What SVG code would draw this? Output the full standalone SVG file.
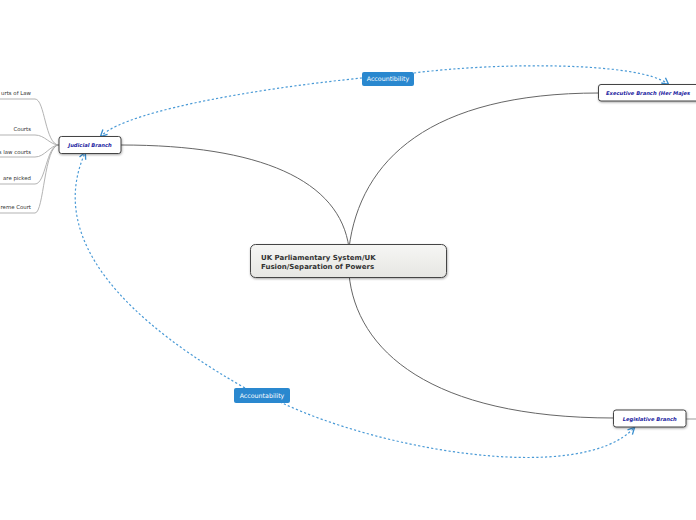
<svg xmlns="http://www.w3.org/2000/svg" width="696" height="520" viewBox="0 0 696 520">
<defs>
<linearGradient id="cg" x1="0" y1="0" x2="0" y2="1"><stop offset="0" stop-color="#f6f6f4"/><stop offset="1" stop-color="#e6e6e3"/></linearGradient>
<filter id="sh" x="-10%" y="-30%" width="120%" height="160%"><feDropShadow dx="0.5" dy="1" stdDeviation="0.8" flood-color="#000" flood-opacity="0.35"/></filter>
<marker id="ah" viewBox="0 0 10 10" refX="8" refY="5" markerWidth="7" markerHeight="7" orient="auto"><path d="M1,1 L9,5 L1,9" fill="none" stroke="#3a8fd0" stroke-width="1.6"/></marker>
</defs>
<style>
.main{fill:none;stroke:#666;stroke-width:1}
.sub{fill:none;stroke:#aaa;stroke-width:0.9}
.rel{fill:none;stroke:#4a9ad6;stroke-width:1.2;stroke-dasharray:2.2 2.2}
.node{fill:#fff;stroke:#444;stroke-width:1;filter:url(#sh)}
.nt{font-family:"DejaVu Sans",Verdana,sans-serif;font-size:5.2px;font-weight:bold;font-style:italic;fill:#1a1aa0}
.ct{font-family:"DejaVu Sans",Verdana,sans-serif;font-size:7px;font-weight:bold;fill:#333}
.lt{font-family:"DejaVu Sans",Verdana,sans-serif;font-size:5.4px;fill:#333;text-anchor:end}
.lab{fill:#2a88cf}
.labt{font-family:"DejaVu Sans",Verdana,sans-serif;font-size:6.3px;fill:#fff;text-anchor:middle}
</style>
<g id="connectors">
<path class="main" d="M121,145 C 260,145 340,180 349,248"/>
<path class="main" d="M349,248 C 360,160 430,93 599,93"/>
<path class="main" d="M349,274 C 356,350 430,418 614,418"/>
<path class="main" d="M686,419 L696,419" style="stroke:#999"/>
<path class="sub" d="M59,145 C 45,145 45,99 35,99 L0,99"/>
<path class="sub" d="M59,145 C 50,145 45,135 35,135 L0,135"/>
<path class="sub" d="M59,145 C 50,145 45,157 35,157 L0,157"/>
<path class="sub" d="M59,145 C 46,145 46,184 35,184 L0,184"/>
<path class="sub" d="M59,145 C 44,145 44,213 35,213 L0,213"/>
<path class="rel" d="M362,78 C 280,86 130,108 101,136" marker-end="url(#ah)"/>
<path class="rel" d="M414,73 C 500,62 640,62 668,84" marker-end="url(#ah)"/>
<path class="rel" d="M245,388 C 90,300 55,220 85,153" marker-end="url(#ah)"/>
<path class="rel" d="M280,402 C 380,450 580,485 634,428" marker-end="url(#ah)"/>
</g>
<g id="central">
<rect x="250.5" y="244.5" width="196" height="33" rx="5" fill="url(#cg)" stroke="#444" stroke-width="1" filter="url(#sh)"/>
<text class="ct" x="261" y="260">UK Parliamentary System/UK</text>
<text class="ct" x="261" y="268.5">Fusion/Separation of Powers</text>
</g>
<g id="judicial">
<rect class="node" x="59" y="136.5" width="62" height="17" rx="2.5"/>
<text class="nt" x="90" y="147" text-anchor="middle">Judicial Branch</text>
</g>
<g id="executive">
<rect class="node" x="598.5" y="84.5" width="110" height="16.5" rx="2.5"/>
<text class="nt" x="606" y="94.8">Executive Branch (Her Majes</text>
</g>
<g id="legislative">
<rect class="node" x="613.5" y="410" width="72.5" height="17" rx="2.5"/>
<text class="nt" x="649.7" y="420.5" text-anchor="middle">Legislative Branch</text>
</g>
<g id="judicial-children">
<text class="lt" x="31" y="95">urts of Law</text>
<text class="lt" x="31" y="131">Courts</text>
<text class="lt" x="31" y="154">s law courts</text>
<text class="lt" x="31" y="180">are picked</text>
<text class="lt" x="31" y="209">reme Court</text>
</g>
<g id="label-accountibility">
<rect class="lab" x="362" y="72" width="52" height="14" rx="2"/>
<text class="labt" x="388" y="81.3">Accountibility</text>
</g>
<g id="label-accountability">
<rect class="lab" x="234" y="388" width="56" height="15" rx="2"/>
<text class="labt" x="262" y="398">Accountability</text>
</g>
</svg>
